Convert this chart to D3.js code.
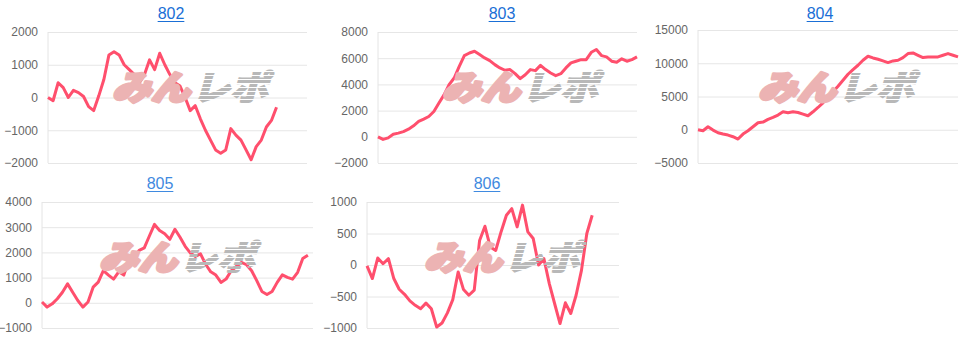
<!DOCTYPE html>
<html>
<head>
<meta charset="utf-8">
<script src="https://cdn.jsdelivr.net/npm/d3@7"></script>
<style>
  body { margin: 0; background: #fff; }
  svg { display: block; }
  .tick text { font-family: "Liberation Sans", Arial, sans-serif; font-size: 12px; fill: #666; }
  .tick line { stroke: #e6e6e6; }
  .title { font-family: "Liberation Sans", Arial, sans-serif; font-size: 16px; }
  .mark { font-family: "Noto Sans CJK JP", sans-serif; font-weight: 900; font-style: italic; font-size: 34px; }
</style>
</head>
<body>
<div id="chart"></div>
<script>
// machine numbers
const titles = ["802", "803", "804", "805", "806"];

// difference in medals
const s802 = [0,-100,450,300,0,220,150,30,-280,-400,50,550,1300,1400,1300,1000,850,700,450,700,1150,850,1350,1000,700,450,350,0,-400,-250,-650,-1000,-1300,-1600,-1700,-1600,-950,-1150,-1300,-1600,-1900,-1500,-1300,-900,-700,-300];
const s803 = [0,-200,-80,200,280,400,580,840,1170,1350,1550,1930,2580,3200,3980,4490,5380,6200,6400,6530,6280,6020,5820,5510,5260,5080,5130,4820,4440,4740,5130,5050,5460,5130,4870,4670,4820,5260,5640,5770,5890,5890,6450,6660,6200,6100,5770,5690,5950,5770,5890,6100];
const s804 = [0,-150,450,-50,-450,-650,-800,-1050,-1400,-650,-150,450,1050,1150,1550,1850,2200,2700,2550,2700,2600,2350,2100,2700,3350,4050,4850,5700,6550,7450,8350,9050,9700,10450,11050,10800,10600,10350,10100,10350,10450,10850,11450,11550,11200,10850,10950,10950,10950,11200,11450,11200,10950];
const s805 = [30,-170,-40,160,420,750,420,90,-170,30,620,820,1280,1100,940,1230,1100,1700,1790,2080,2180,2650,3110,2870,2740,2520,2920,2600,2240,1980,1840,1940,1530,1230,1100,810,940,1270,1440,1600,1510,1270,880,450,330,450,810,1110,1010,940,1210,1760,1890];
const s806 = [-15,-215,110,20,100,-215,-385,-465,-570,-640,-695,-605,-695,-985,-920,-760,-550,-110,-390,-480,-400,390,615,285,230,525,790,895,605,950,525,420,0,100,-295,-615,-930,-600,-770,-480,-85,500,790];

// x slots on each chart's axis
const xSlots = [51, 51, 52, 53, 47];

// y tick labels
const t802 = [-2000, -1000, 0, 1000, 2000];
const t803 = [-2000, 0, 2000, 4000, 6000, 8000];
const t804 = [-5000, 0, 5000, 10000, 15000];
const t805 = [-1000, 0, 1000, 2000, 3000, 4000];
const t806 = [-1000, -500, 0, 500, 1000];

const series = [s802, s803, s804, s805, s806];
const ticks = [t802, t803, t804, t805, t806];

// plot boxes (left, right, top, bottom), title position, watermark center
const boxes = [
  {l: 48,  r: 307, t: 32,  b: 163, tx: 171, ty: 19,  wx: 190, wy: 88,  col: "#1a6fd6"},
  {l: 378, r: 637, t: 32,  b: 163, tx: 502, ty: 19,  wx: 520, wy: 88,  col: "#1a6fd6"},
  {l: 698, r: 958, t: 30,  b: 163, tx: 820, ty: 19,  wx: 836, wy: 88,  col: "#1a6fd6"},
  {l: 42,  r: 313, t: 202, b: 328, tx: 160, ty: 189, wx: 177, wy: 258, col: "#3f8ae0"},
  {l: 367, r: 619, t: 202, b: 328, tx: 487, ty: 189, wx: 502, wy: 258, col: "#3f8ae0"}
];

const svg = d3.select("#chart").append("svg")
  .attr("width", 967)
  .attr("height", 337);

// stripes for the grey half of the logo
let pat = svg.append("defs").append("pattern")
  .attr("id", "stripe")
  .attr("patternUnits", "userSpaceOnUse")
  .attr("width", 8).attr("height", 4);
pat.append("rect").attr("width", 8).attr("height", 3).attr("fill", "#b8b8b8");

titles.forEach((name, i) => {
  let b = boxes[i];
  let w = b.r - b.l, h = b.b - b.t;
  let g = svg.append("g").attr("transform", "translate(" + b.l + "," + b.t + ")");

  let x = d3.scaleLinear().domain([0, xSlots[i]]).range([0, w]);
  let tk = ticks[i];
  let y = d3.scaleLinear().domain([tk[0], tk[tk.length - 1]]).range([h, 0]);

  let yAxis = d3.axisLeft(y)
    .tickValues(tk)
    .tickSize(-w)
    .tickPadding(10)
    .tickFormat(d3.format("d"));

  let ax = g.append("g").attr("class", "y-axis").call(yAxis);
  ax.select(".domain").remove();
  ax.selectAll(".tick line").attr("stroke", d => d === 0 ? "#a8a8a8" : (d === tk[0] ? "#cfcfcf" : "#e6e6e6"));

  // left edge
  g.append("line")
    .attr("x1", 0).attr("x2", 0)
    .attr("y1", 0).attr("y2", h)
    .attr("stroke", "#e4e4e4");

  // watermark
  let wm = svg.append("g").attr("transform", "translate(" + b.wx + "," + (b.wy + 12) + ")");
  wm.append("text").attr("class", "mark")
    .attr("x", -78).attr("y", 0)
    .attr("textLength", 78).attr("lengthAdjust", "spacingAndGlyphs")
    .attr("fill", "#ecb3b3")
    .attr("stroke", "#ecb3b3").attr("stroke-width", 3).attr("stroke-linejoin", "round")
    .text("みん");
  wm.append("text").attr("class", "mark")
    .attr("x", 2).attr("y", 0)
    .attr("textLength", 76).attr("lengthAdjust", "spacingAndGlyphs")
    .attr("fill", "url(#stripe)")
    .attr("stroke", "url(#stripe)").attr("stroke-width", 1.5)
    .text("レポ");

  let line = d3.line()
    .x((d, j) => x(j))
    .y(d => y(d));

  g.append("path")
    .datum(series[i])
    .attr("fill", "none")
    .attr("stroke", "#ff4f6d")
    .attr("stroke-width", 3)
    .attr("stroke-linejoin", "round")
    .attr("d", line);

  // title link
  let t = svg.append("text")
    .attr("class", "title")
    .attr("x", b.tx).attr("y", b.ty)
    .attr("text-anchor", "middle")
    .attr("fill", b.col)
    .text(name);
  let tw = t.node().getComputedTextLength();
  svg.append("line")
    .attr("x1", b.tx - tw / 2).attr("x2", b.tx + tw / 2)
    .attr("y1", b.ty + 2.5).attr("y2", b.ty + 2.5)
    .attr("stroke", b.col)
    .attr("stroke-width", 1);
});
</script>
</body>
</html>
